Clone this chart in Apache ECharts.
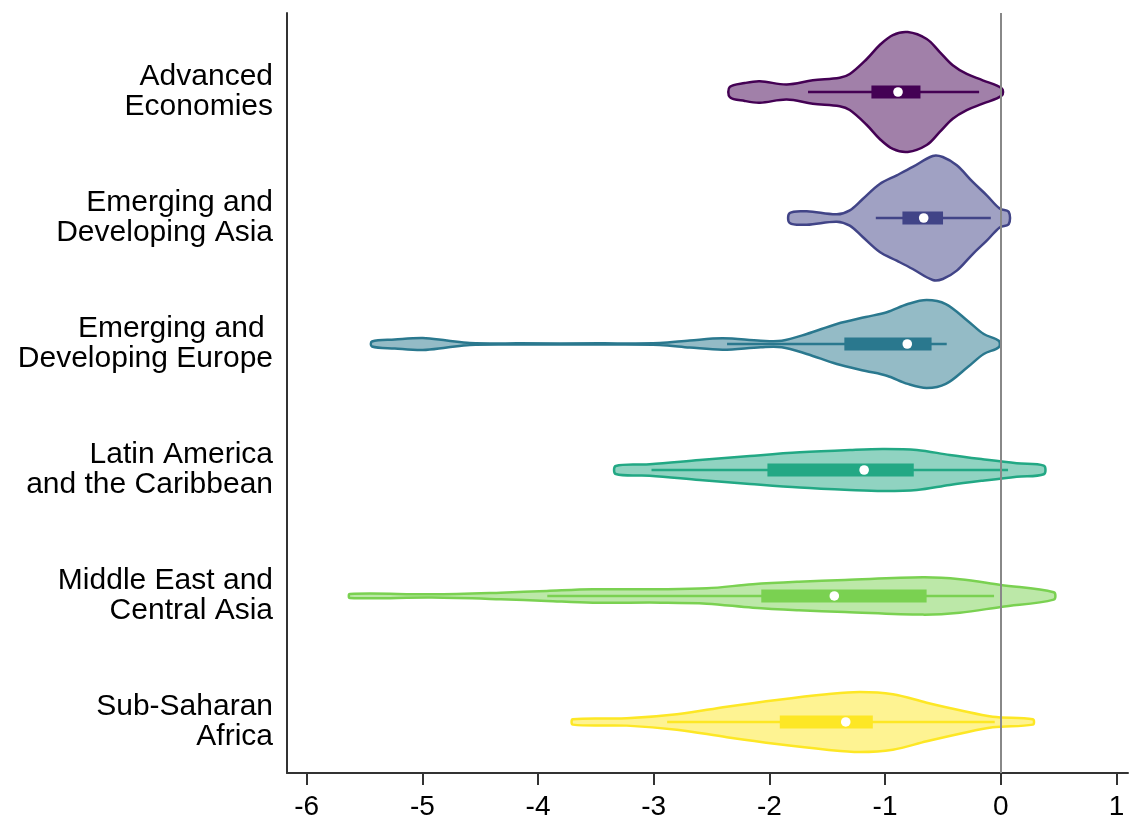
<!DOCTYPE html>
<html>
<head>
<meta charset="utf-8">
<script src="https://cdn.jsdelivr.net/npm/echarts@6/dist/echarts.min.js"></script>
<style>
html,body{margin:0;padding:0;background:#fff;}
#chart{width:1130px;height:823px;}
</style>
</head>
<body>
<div id="chart"></div>
<script>
// ---- data ----
const categories = [
  'Advanced\nEconomies',
  'Emerging and\nDeveloping Asia',
  'Emerging and \nDeveloping Europe',
  'Latin America\nand the Caribbean',
  'Middle East and\nCentral Asia',
  'Sub-Saharan\nAfrica'
];
const xTicks = [-6, -5, -4, -3, -2, -1, 0, 1];

// violin outlines: x positions and density (half-width in category units)
const v1X = [-2.342,-2.213,-2.083,-1.850,-1.625,-1.392,-1.305,-1.158,-1.046,-0.933,-0.804,-0.640,-0.527,-0.415,-0.294,-0.156,0.009];
const v1W = [0.040,0.071,0.085,0.060,0.093,0.113,0.143,0.262,0.373,0.452,0.476,0.421,0.317,0.212,0.143,0.093,0.028];
const v2X = [-1.824,-1.677,-1.417,-1.305,-1.193,-1.046,-0.899,-0.761,-0.588,-0.501,-0.380,-0.242,-0.121,-0.009,0.069];
const v2W = [0.040,0.053,0.029,0.061,0.151,0.270,0.339,0.405,0.492,0.484,0.418,0.286,0.180,0.075,0.048];
const v3X = [-5.436,-5.238,-4.996,-4.788,-4.589,-4.157,-3.466,-2.947,-2.688,-2.403,-2.074,-1.893,-1.677,-1.417,-1.167,-0.985,-0.804,-0.640,-0.475,-0.285,-0.147,-0.017];
const v3W = [0.020,0.036,0.048,0.028,0.008,0.005,0.005,0.008,0.028,0.045,0.026,0.026,0.079,0.159,0.214,0.252,0.317,0.349,0.317,0.183,0.079,0.026];
const v4X = [-3.328,-3.034,-2.602,-2.169,-1.737,-1.305,-1.020,-0.726,-0.441,-0.156,0.138,0.372];
const v4W = [0.032,0.045,0.079,0.111,0.140,0.159,0.167,0.159,0.119,0.085,0.053,0.034];
const v5X = [-5.627,-4.918,-4.322,-3.924,-3.526,-2.939,-2.541,-2.143,-1.746,-1.348,-0.674,-0.354,0.000,0.458];
const v5W = [0.016,0.013,0.026,0.040,0.053,0.053,0.061,0.093,0.113,0.127,0.148,0.133,0.087,0.029];
const v6X = [-3.699,-3.233,-2.800,-2.368,-1.936,-1.504,-1.219,-0.933,-0.640,-0.354,-0.069,0.277];
const v6W = [0.021,0.029,0.061,0.121,0.175,0.220,0.238,0.220,0.153,0.093,0.042,0.021];

// box-plot statistics
const whiskerLow  = [-1.666, -1.080, -2.366, -3.019, -3.920, -2.884];
const quartile1   = [-1.118, -0.850, -1.352, -2.017, -2.070, -1.910];
const medians     = [-0.888, -0.666, -0.808, -1.181, -1.439, -1.340];
const quartile3   = [-0.694, -0.499, -0.598, -0.752, -0.641, -1.106];
const whiskerHigh = [-0.187, -0.086, -0.467,  0.063, -0.058, -0.052];

const violinX = [v1X, v2X, v3X, v4X, v5X, v6X];
const violinW = [v1W, v2W, v3W, v4W, v5W, v6W];

const lineColors = ['#440154', '#414487', '#2a788e', '#22a884', '#7ad151', '#fde725'];
const fillColors = ['rgba(68,1,84,0.5)', 'rgba(65,68,135,0.5)', 'rgba(42,120,142,0.5)',
                    'rgba(34,168,132,0.5)', 'rgba(122,209,81,0.5)', 'rgba(253,231,37,0.5)'];

const FONT = "'Liberation Sans', Arial, sans-serif";

function renderViolin(params, api) {
  const i = params.dataIndex;
  const xs = violinX[i], ws = violinW[i];
  const top = xs.map((x, j) => api.coord([x, i - ws[j]]));
  const bot = xs.map((x, j) => api.coord([x, i + ws[j]])).reverse();
  const pts = top.concat(bot);
  const c = lineColors[i];
  const wl = api.coord([whiskerLow[i], i]);
  const wh = api.coord([whiskerHigh[i], i]);
  const a = api.coord([quartile1[i], i]);
  const b = api.coord([quartile3[i], i]);
  const m = api.coord([medians[i], i]);
  return {
    type: 'group',
    children: [
      { type: 'polygon', shape: { points: pts, smooth: 0.35 },
        style: { fill: fillColors[i], stroke: c, lineWidth: 2.5, lineJoin: 'round' } },
      { type: 'line', shape: { x1: wl[0], y1: wl[1], x2: wh[0], y2: wh[1] },
        style: { stroke: c, lineWidth: 2.5 } },
      { type: 'rect', shape: { x: a[0], y: a[1] - 6.5, width: b[0] - a[0], height: 13 },
        style: { fill: c } },
      { type: 'circle', shape: { cx: m[0], cy: m[1], r: 4.8 }, style: { fill: '#fff' } }
    ]
  };
}

const chart = echarts.init(document.getElementById('chart'), null, { renderer: 'canvas' });
chart.setOption({
  animation: false,
  backgroundColor: '#fff',
  grid: { left: 287, right: 2, top: 13, bottom: 50, containLabel: false },
  xAxis: {
    type: 'value', min: -6.17, max: 1.1,
    splitLine: { show: false },
    axisLine: { show: true, onZero: false, lineStyle: { color: '#333', width: 2 } },
    axisTick: { show: true, length: 12, customValues: xTicks, lineStyle: { color: '#333', width: 2 } },
    axisLabel: { customValues: xTicks, fontSize: 28, color: '#000', fontFamily: FONT, margin: 20,
                 showMinLabel: true, showMaxLabel: true }
  },
  yAxis: {
    type: 'value', min: -0.627, max: 5.405, inverse: true,
    splitLine: { show: false },
    axisLine: { show: true, onZero: false, lineStyle: { color: '#333', width: 2 } },
    axisTick: { show: false },
    axisLabel: {
      customValues: [0, 1, 2, 3, 4, 5],
      formatter: v => categories[Math.round(v)],
      fontSize: 30, lineHeight: 30, color: '#000', fontFamily: FONT, margin: 14, align: 'right',
      padding: [4, 0, 0, 0]
    }
  },
  series: [
    {
      type: 'custom',
      coordinateSystem: 'cartesian2d',
      renderItem: renderViolin,
      data: medians.map((m, i) => [m, i]),
      z: 2,
      silent: true
    },
    {
      type: 'line',
      data: [[0, 2]],
      showSymbol: false,
      lineStyle: { opacity: 0 },
      z: 5,
      silent: true,
      markLine: {
        silent: true, symbol: ['none', 'none'], label: { show: false },
        lineStyle: { color: '#888', width: 2, type: 'solid' },
        data: [{ xAxis: 0 }]
      }
    }
  ]
});
</script>
</body>
</html>
